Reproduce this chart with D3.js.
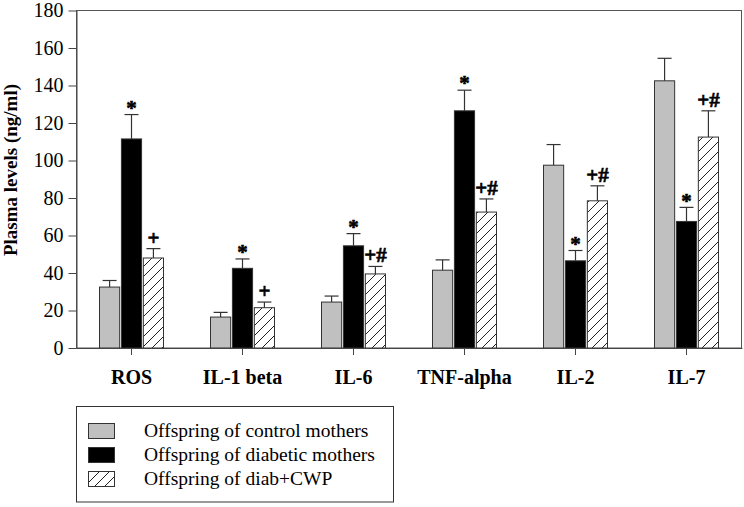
<!DOCTYPE html>
<meta charset="utf-8">
<style>
  body { margin: 0; background: #fff; }
  text { font-family: "Liberation Serif", "Times New Roman", serif; }
</style>
<body></body>
<script src="https://d3js.org/d3.v7.min.js"></script>
<script>

const categories = ["ROS", "IL-1 beta", "IL-6", "TNF-alpha", "IL-2", "IL-7"];
const seriesNames = ["Offspring of control mothers", "Offspring of diabetic mothers", "Offspring of diab+CWP"];

const controlMeans  = [32.5, 16.5, 24.5, 41.5, 97.5, 142.5];
const controlErr    = [3.5, 2.5, 3.2, 5.5, 11, 12];
const diabeticMeans = [111.5, 42.5, 54.5, 126.5, 46.5, 67.5];
const diabeticErr   = [13, 5, 6.5, 11, 5.5, 7.5];
const cwpMeans      = [48, 21.5, 39.5, 72.5, 78.5, 112.5];
const cwpErr        = [5, 3, 4, 7, 8, 14];

const controlMarks  = ["", "", "", "", "", ""];
const diabeticMarks = ["*", "*", "*", "*", "*", "*"];
const cwpMarks      = ["+", "+", "+#", "+#", "+#", "+#"];

const yTicks = [0, 20, 40, 60, 80, 100, 120, 140, 160, 180];

const width = 744, height = 507;
const plotLeft = 76, plotRight = 742, plotTop = 10.5, plotBottom = 348;

const fills = ["#c0c0c0", "#000", "url(#hatch)"];
const means = [controlMeans, diabeticMeans, cwpMeans];
const errs = [controlErr, diabeticErr, cwpErr];
const marks = [controlMarks, diabeticMarks, cwpMarks];

// flatten into rows for the bars
const rows = [];
categories.forEach((c, i) => {
  seriesNames.forEach((s, j) => {
    rows.push({cat: c, series: s, k: j, value: means[j][i], err: errs[j][i], mark: marks[j][i]});
  });
});

const svg = d3.select("body").append("svg")
    .attr("width", width)
    .attr("height", height);

// diagonal hatch
const pat = svg.append("defs").append("pattern")
    .attr("id", "hatch")
    .attr("patternUnits", "userSpaceOnUse")
    .attr("width", 10)
    .attr("height", 10);
pat.append("rect").attr("width", 10).attr("height", 10).attr("fill", "#fff");
pat.append("path")
    .attr("d", "M-2,2 L2,-2 M0,10 L10,0 M8,12 L12,8")
    .attr("stroke", "#222")
    .attr("stroke-width", 1);

const x = d3.scaleBand().domain(categories).range([plotLeft, plotRight]);
const groupW = 64;
const xs = d3.scaleBand().domain(seriesNames).range([0, groupW]).paddingInner(0.08);
const y = d3.scaleLinear().domain([0, 180]).range([plotBottom, plotTop]);

// frame
svg.append("rect")
    .attr("x", plotLeft + 0.5).attr("y", plotTop)
    .attr("width", plotRight - plotLeft - 1).attr("height", plotBottom - plotTop)
    .attr("fill", "none").attr("stroke", "#555");

const bx = d => x(d.cat) + (x.bandwidth() - groupW) / 2 + xs(d.series);

svg.append("g")
  .selectAll("rect")
  .data(rows)
  .join("rect")
    .attr("x", d => bx(d))
    .attr("y", d => y(d.value))
    .attr("width", xs.bandwidth())
    .attr("height", d => plotBottom - y(d.value))
    .attr("fill", d => fills[d.k])
    .attr("stroke", "#333")
    .attr("stroke-width", 1);

// error bars (upper only)
const eb = svg.append("g").attr("stroke", "#333").attr("stroke-width", 1.2);
eb.selectAll(".v").data(rows).join("line")
    .attr("class", "v")
    .attr("x1", d => bx(d) + xs.bandwidth() / 2)
    .attr("x2", d => bx(d) + xs.bandwidth() / 2)
    .attr("y1", d => y(d.value))
    .attr("y2", d => y(d.value + d.err));
eb.selectAll(".c").data(rows).join("line")
    .attr("class", "c")
    .attr("x1", d => bx(d) + xs.bandwidth() / 2 - 7)
    .attr("x2", d => bx(d) + xs.bandwidth() / 2 + 7)
    .attr("y1", d => y(d.value + d.err))
    .attr("y2", d => y(d.value + d.err));

// significance marks
svg.append("g")
    .attr("font-size", 21)
    .attr("font-weight", "bold")
    .attr("text-anchor", "middle")
    .attr("stroke", "#000")
    .attr("stroke-width", 0.6)
  .selectAll("text")
  .data(rows.filter(d => d.mark))
  .join("text")
    .attr("x", d => bx(d) + xs.bandwidth() / 2)
    .attr("y", d => y(d.value + d.err) - (d.mark === "*" ? 4 : 4))
    .attr("dy", d => d.mark === "*" ? "0.2em" : 0)
    .text(d => d.mark);

// axes
const yAxis = svg.append("g")
    .attr("transform", `translate(${plotLeft + 0.5},0)`)
    .call(d3.axisLeft(y).tickValues(yTicks).tickSize(8).tickSizeOuter(0).tickPadding(5));
yAxis.selectAll("text").attr("font-size", 20).attr("fill", "#000");
yAxis.selectAll("line, path").attr("stroke", "#444");

const xAxis = svg.append("g")
    .attr("transform", `translate(0,${plotBottom})`)
    .call(d3.axisBottom(x).tickSize(7).tickSizeOuter(0).tickPadding(15));
xAxis.selectAll("text").attr("font-size", 20).attr("font-weight", "bold").attr("fill", "#000");
xAxis.selectAll("line, path").attr("stroke", "#444");

svg.append("text")
    .attr("transform", "translate(17,170) rotate(-90)")
    .attr("text-anchor", "middle")
    .attr("font-size", 19)
    .attr("font-weight", "bold")
    .text("Plasma levels (ng/ml)");

// legend
const lg = svg.append("g");
lg.append("rect")
    .attr("x", 76.5).attr("y", 406.5)
    .attr("width", 317).attr("height", 95.5)
    .attr("fill", "#fff").attr("stroke", "#333");
const item = lg.selectAll("g")
  .data(seriesNames)
  .join("g")
    .attr("transform", (d, i) => `translate(0,${423 + i * 24})`);
item.append("rect")
    .attr("x", 88.5).attr("y", 0.5)
    .attr("width", 26).attr("height", 15)
    .attr("fill", (d, i) => fills[i])
    .attr("stroke", "#333");
item.append("text")
    .attr("x", 144).attr("y", 14)
    .attr("font-size", 19.5)
    .text(d => d);

</script>
